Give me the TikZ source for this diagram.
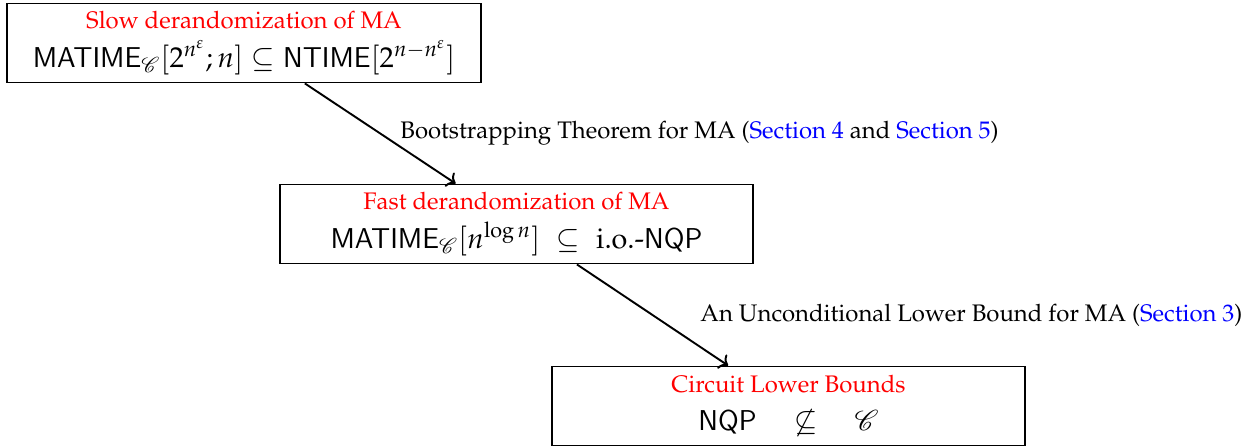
\documentclass[tikz,border=0pt]{standalone}
\usepackage[T1]{fontenc}
\usepackage{mathpazo}
\usepackage{mathrsfs}
\usepackage{amsmath}
\usepackage{amssymb}
\usepackage{xcolor}
\usetikzlibrary{arrows.meta}

\newcommand{\ckt}{\mathscr{C}}

\begin{document}
\begin{tikzpicture}[x=0.418pt, y=-0.418pt]
                    \tikzset{stagebox/.style={draw, thick, align=center, minimum width=198pt, minimum height=33pt, inner sep=2pt}}
                    \useasboundingbox (0, 0) rectangle (1253, 448);

                    % Stages
                    \node[stagebox] (slow) at (244, 43) {\textcolor{red}{Slow derandomization of MA}\\[4pt]
                        {\large $\mathsf{MATIME}_{\ckt}[2^{n^{\varepsilon}}; n] \subseteq \mathsf{NTIME}[2^{n-n^{\varepsilon}}]$}};
                    \node[stagebox] (fast) at (516.5, 224) {\textcolor{red}{Fast derandomization of MA}\\[4pt]
                        {\large $\mathsf{MATIME}_{\ckt}[n^{\log n}] \;\subseteq\; \text{i.o.-}\mathsf{NQP}$}};
                    \node[stagebox] (lower) at (788.5, 406) {\textcolor{red}{Circuit Lower Bounds}\\[4pt]
                        {\large $\mathsf{NQP} \quad \not\subseteq \quad \ckt$}};

                    % Implications
                    \draw[->, thick] (slow) -- (fast);
                    \draw[->, thick] (fast) -- (lower);
                    \node[anchor=west] (bootlab) at (392, 133) {Bootstrapping Theorem for MA (\textcolor{blue}{Section 4} and \textcolor{blue}{Section 5})};
                    \node[anchor=west] (lowlab) at (692, 315) {An Unconditional Lower Bound for MA (\textcolor{blue}{Section 3})};
                \end{tikzpicture}
\end{document}
